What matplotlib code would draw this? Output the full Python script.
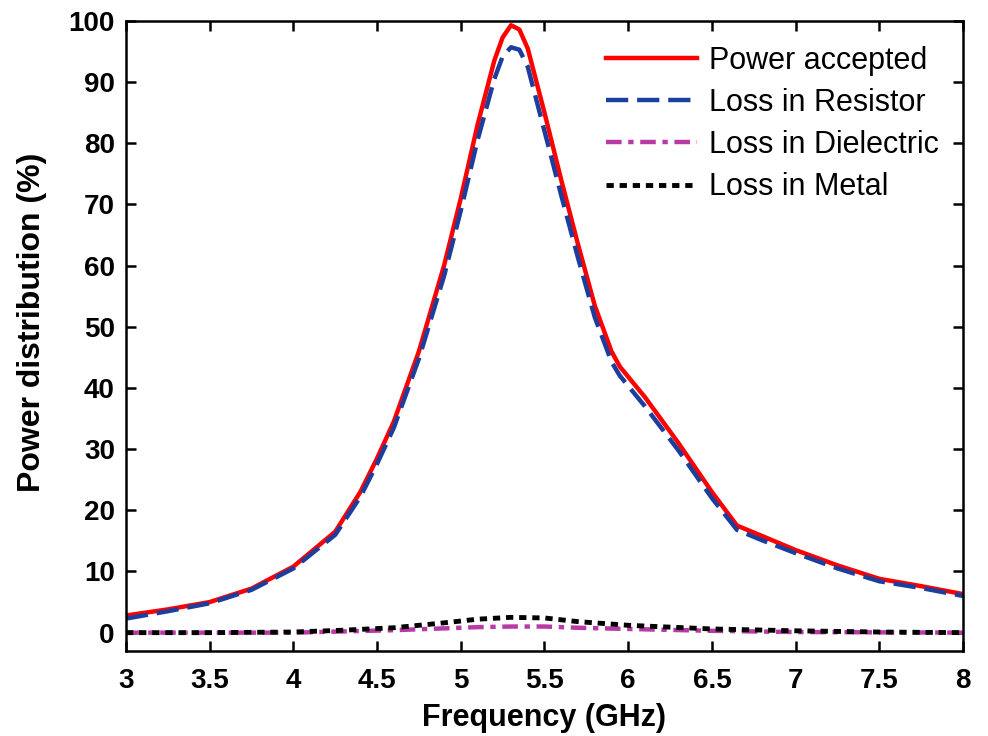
import numpy as np
import matplotlib
matplotlib.use("Agg")
import matplotlib.pyplot as plt

# frequency samples (GHz)
freq = [3.0, 3.25, 3.5, 3.75, 4.0, 4.25, 4.4, 4.5, 4.6, 4.75, 4.9, 5.0, 5.1,
        5.2, 5.25, 5.3, 5.35, 5.4, 5.5, 5.6, 5.7, 5.8, 5.9, 5.95, 6.1, 6.3,
        6.5, 6.65, 6.8, 7.0, 7.25, 7.5, 7.75, 8.0]

power_accepted = [2.8, 3.8, 5.0, 7.2, 10.8, 16.5, 23.0, 28.5, 34.5, 46.0, 60.0,
                  71.0, 83.0, 93.5, 97.3, 99.3, 98.6, 95.5, 85.0, 74.0, 63.5,
                  53.5, 46.0, 43.5, 38.5, 31.0, 23.0, 17.5, 15.8, 13.5, 11.0,
                  8.8, 7.6, 6.3]

loss_resistor = [2.3, 3.5, 4.8, 7.0, 10.5, 16.0, 22.2, 27.6, 33.5, 44.8, 58.3,
                 69.0, 80.5, 90.5, 94.2, 95.7, 95.3, 92.5, 82.0, 71.5, 61.3,
                 51.6, 44.3, 42.0, 37.0, 29.8, 22.0, 16.8, 15.1, 13.0, 10.5,
                 8.4, 7.3, 6.0]

freq_small = [3.0, 3.5, 4.0, 4.3, 4.6, 4.9, 5.1, 5.3, 5.5, 5.7, 6.0, 6.5, 7.0, 7.5, 8.0]
loss_dielectric = [0.0, 0.0, 0.0, 0.2, 0.4, 0.7, 0.9, 1.0, 1.0, 0.8, 0.6, 0.3, 0.1, 0.05, 0.0]
loss_metal = [0.0, 0.0, 0.1, 0.4, 0.8, 1.6, 2.2, 2.5, 2.4, 1.8, 1.2, 0.6, 0.3, 0.1, 0.0]

plt.rcParams['font.family'] = ['Liberation Sans', 'DejaVu Sans']

fig = plt.figure(figsize=(9.88, 7.36), dpi=100)
ax = fig.add_axes([0.1275, 0.1155, 0.8472, 0.856])

ax.plot(freq, power_accepted, color="#ff0000", lw=3.2, label="Power accepted")
ax.plot(freq, loss_resistor, color="#1c3f9e", lw=3.2, ls=(0, (5, 2)),
        label="Loss in Resistor")
ax.plot(freq_small, loss_dielectric, color="#b83aa6", lw=3.2,
        ls=(0, (3.5, 1.5, 1.2, 1.5)), label="Loss in Dielectric")
ax.plot(freq_small, loss_metal, color="black", lw=3.5, ls=(0, (1.5, 1.2)),
        label="Loss in Metal")

ax.set_xlim(3, 8)
ax.set_ylim(-3, 100)
ax.set_xticks(np.arange(3, 8.01, 0.5))
ax.set_xticklabels(["3", "3.5", "4", "4.5", "5", "5.5", "6", "6.5", "7", "7.5", "8"])
ax.set_yticks(np.arange(0, 101, 10))

ax.tick_params(direction="in", length=7, width=1.8, top=True, right=True,
               labelsize=20)
ax.tick_params(axis="x", pad=12)
ax.tick_params(axis="y", pad=8)
for lab in ax.get_xticklabels() + ax.get_yticklabels():
    lab.set_fontweight("bold")
for sp in ax.spines.values():
    sp.set_linewidth(1.8)

ax.set_xlabel("Frequency (GHz)", fontsize=22, fontweight="bold")
ax.set_ylabel("Power distribution (%)", fontsize=23, fontweight="bold")
ax.xaxis.set_label_coords(0.5, -0.083)
ax.yaxis.set_label_coords(-0.094, 0.522)

ax.legend(loc="upper right", frameon=False, fontsize=22, handlelength=3.0,
          handletextpad=0.4, labelspacing=0.4, borderaxespad=0.1,
          bbox_to_anchor=(0.99, 0.985))

fig.savefig("out.png", dpi=100)
